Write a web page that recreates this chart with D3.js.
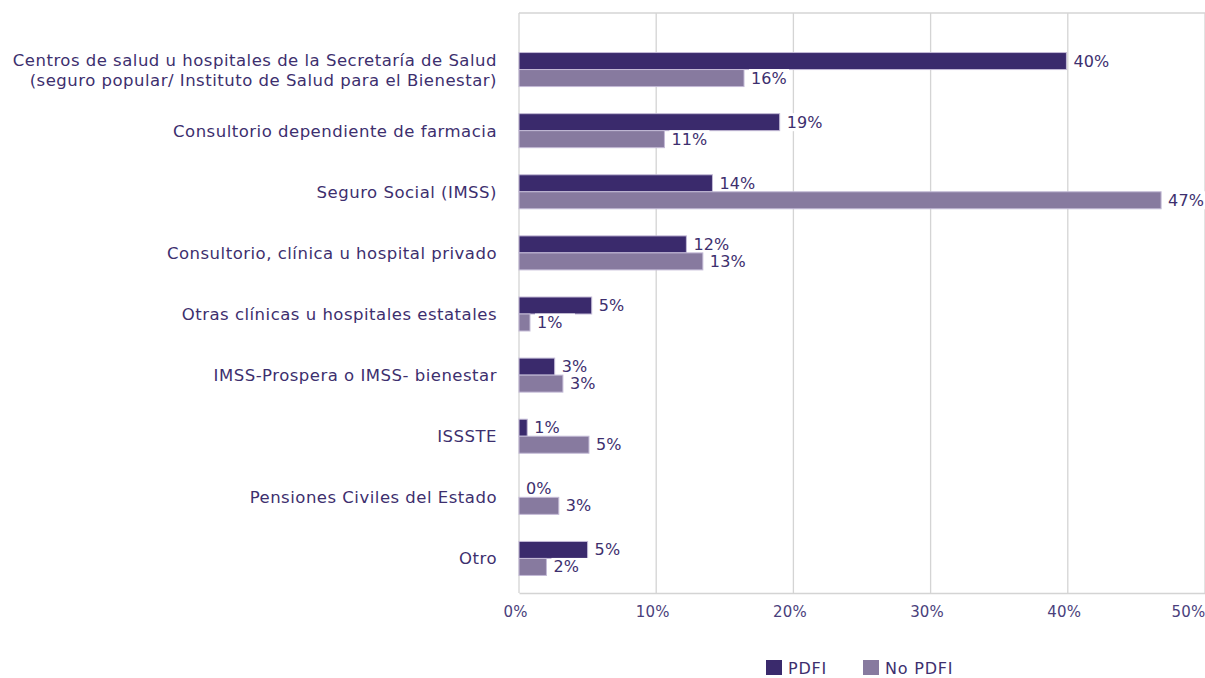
<!DOCTYPE html>
<html>
<head>
<meta charset="utf-8">
<script src="https://cdn.jsdelivr.net/npm/d3@7"></script>
<style>
  body { margin: 0; background: #fff; }
  text { font-family: "DejaVu Sans", sans-serif; }
</style>
</head>
<body>
<div id="chart"></div>
<script>
// categorias (de arriba a abajo)
const categories = [
    ["Centros de salud u hospitales de la Secretaría de Salud", "(seguro popular/ Instituto de Salud para el Bienestar)"],
    ["Consultorio dependiente de farmacia"],
    ["Seguro Social (IMSS)"],
    ["Consultorio, clínica u hospital privado"],
    ["Otras clínicas u hospitales estatales"],
    ["IMSS-Prospera o IMSS- bienestar"],
    ["ISSSTE"],
    ["Pensiones Civiles del Estado"],
    ["Otro"]
];
// porcentajes
const pdfi = [39.9, 19.0, 14.1, 12.2, 5.3, 2.6, 0.6, 0, 5.0];
const noPdfi = [16.4, 10.6, 46.8, 13.4, 0.8, 3.2, 5.1, 2.9, 2.0];
const seriesNames = ["PDFI", "No PDFI"];
const xTicks = [0, 10, 20, 30, 40, 50];

const width = 1205;
const height = 678;
const margin = { top: 13, right: 0, bottom: 85, left: 519 };
const plotW = width - margin.left - margin.right;
const plotH = height - margin.top - margin.bottom;

const colors = ["#3a2a6c", "#877a9f"];
const textColor = "#3d2f6e";
const gridColor = "#d4d4d4";

const svg = d3.select("#chart")
    .append("svg")
    .attr("width", width)
    .attr("height", height);

const g = svg.append("g")
    .attr("transform", `translate(${margin.left},${margin.top})`);

// escala X en porcentaje
const x = d3.scaleLinear()
    .domain([0, 50])
    .range([0, plotW]);

// escala Y por categoria
const y = d3.scaleBand()
    .domain(d3.range(categories.length))
    .range([26, 576]);

const barH = 17;

// lineas de la cuadricula
g.append("g")
    .selectAll("line")
    .data(xTicks)
    .join("line")
    .attr("x1", d => x(d))
    .attr("x2", d => x(d))
    .attr("y1", 0)
    .attr("y2", plotH)
    .attr("stroke", gridColor)
    .attr("stroke-width", 1.3);

g.append("line")
    .attr("x1", 0).attr("x2", plotW)
    .attr("y1", 0).attr("y2", 0)
    .attr("stroke", gridColor).attr("stroke-width", 1.3);

// eje inferior
g.append("g")
    .attr("transform", `translate(0,${plotH})`)
    .call(d3.axisBottom(x).tickValues(xTicks).tickSize(0).tickPadding(13).tickFormat(d => `${d}%`))
    .call(a => a.select(".domain").attr("stroke", gridColor).attr("stroke-width", 1.5))
    .call(a => a.selectAll("text")
        .attr("fill", "#4a3f7c")
        .attr("dx", d => d === 50 ? -17 : -4)
        .style("font-size", "15px")
        .style("letter-spacing", "0.2px")
        .style("font-family", "'DejaVu Sans', sans-serif"));

// etiquetas de categorias
const catG = g.append("g");
categories.forEach((lines, i) => {
    const cy = y(i) + y.bandwidth() / 2;
    const t = catG.append("text")
        .attr("x", -22)
        .attr("y", cy - (lines.length - 1) * 10)
        .attr("text-anchor", "end")
        .attr("dominant-baseline", "central")
        .attr("fill", textColor)
        .style("font-size", "16.5px")
        .style("letter-spacing", "0.5px");
    lines.forEach((ln, j) => {
        t.append("tspan")
            .attr("x", -22)
            .attr("dy", j === 0 ? 0 : 20)
            .text(ln);
    });
});

// barras
const fmt = d => `${d3.format(".0f")(d)}%`;
[pdfi, noPdfi].forEach((vals, s) => {
    const sg = g.append("g");
    sg.selectAll("rect")
        .data(vals)
        .join("rect")
        .attr("x", 0)
        .attr("y", (d, i) => y(i) + y.bandwidth() / 2 - barH + s * barH)
        .attr("width", d => x(d))
        .attr("height", barH)
        .attr("fill", colors[s])
        .attr("stroke", "#c3bad6")
        .attr("stroke-width", 1);

    const lab = sg.selectAll("g.lab")
        .data(vals)
        .join("g")
        .attr("class", "lab")
        .attr("transform", (d, i) => `translate(${x(d) + 7},${y(i) + y.bandwidth() / 2 - barH / 2 + s * barH})`);
    lab.append("rect")
        .attr("x", -2)
        .attr("y", -9)
        .attr("width", 40)
        .attr("height", 18)
        .attr("fill", "#fff");
    lab.append("text")
        .attr("dominant-baseline", "central")
        .attr("fill", textColor)
        .style("font-size", "16px")
        .style("letter-spacing", "0.1px")
        .text(d => fmt(d));
});

// leyenda
const legend = svg.append("g")
    .attr("transform", "translate(766,660)");
const legX = [0, 97];
seriesNames.forEach((name, i) => {
    legend.append("rect")
        .attr("x", legX[i])
        .attr("y", 0)
        .attr("width", 16)
        .attr("height", 15)
        .attr("fill", colors[i]);
    legend.append("text")
        .attr("x", legX[i] + 22)
        .attr("y", 8)
        .attr("dominant-baseline", "central")
        .attr("fill", textColor)
        .style("font-size", "16px")
        .style("letter-spacing", "0.8px")
        .text(name);
});
</script>
</body>
</html>
